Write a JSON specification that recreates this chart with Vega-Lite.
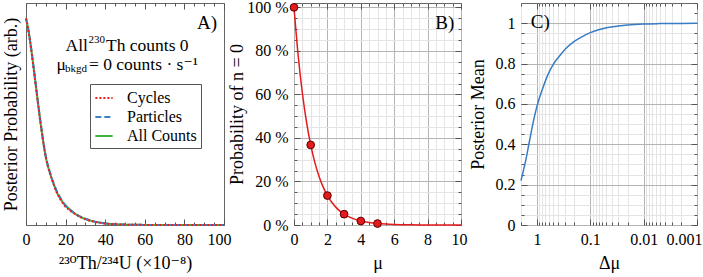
{
  "$schema": "https://vega.github.io/schema/vega-lite/v6.json",
  "padding": {"left": 1, "top": -2, "right": 0, "bottom": 0},
  "background": "white",
  "config": {
    "font": "Liberation Serif, DejaVu Serif",
    "style": {
      "guide-label": {"font": "Liberation Serif, DejaVu Serif", "fill": "black"},
      "guide-title": {"font": "Liberation Serif, DejaVu Serif", "fill": "black", "fontWeight": "normal"}
    },
    "view": {"stroke": "#666", "strokeWidth": 1},
    "axis": {
      "labelFont": "Liberation Serif, DejaVu Serif", "titleFont": "Liberation Serif, DejaVu Serif",
      "labelFontSize": 16, "titleFontSize": 18, "titleFontWeight": "normal",
      "labelColor": "black", "titleColor": "black",
      "domain": false, "tickColor": "#555", "labelFlush": false, "labelOverlap": false
    },
    "legend": {"labelFont": "Liberation Serif, DejaVu Serif"},
    "text": {"font": "Liberation Serif, DejaVu Serif", "color": "black"}
  },
  "datasets": {
    "posterior": [
      {"series": "All Counts", "ratio": 0, "prob": 1.000}, {"series": "All Counts", "ratio": 1, "prob": 0.955}, {"series": "All Counts", "ratio": 2, "prob": 0.895}, {"series": "All Counts", "ratio": 3, "prob": 0.825}, {"series": "All Counts", "ratio": 4, "prob": 0.750}, {"series": "All Counts", "ratio": 5, "prob": 0.672}, {"series": "All Counts", "ratio": 6, "prob": 0.595}, {"series": "All Counts", "ratio": 7, "prob": 0.520}, {"series": "All Counts", "ratio": 8, "prob": 0.450}, {"series": "All Counts", "ratio": 9, "prob": 0.385}, {"series": "All Counts", "ratio": 10, "prob": 0.330}, {"series": "All Counts", "ratio": 11, "prob": 0.288}, {"series": "All Counts", "ratio": 12, "prob": 0.255}, {"series": "All Counts", "ratio": 13, "prob": 0.225}, {"series": "All Counts", "ratio": 14, "prob": 0.198}, {"series": "All Counts", "ratio": 15, "prob": 0.172}, {"series": "All Counts", "ratio": 16, "prob": 0.150}, {"series": "All Counts", "ratio": 17, "prob": 0.133}, {"series": "All Counts", "ratio": 18, "prob": 0.118}, {"series": "All Counts", "ratio": 19, "prob": 0.106}, {"series": "All Counts", "ratio": 20, "prob": 0.096}, {"series": "All Counts", "ratio": 22, "prob": 0.077}, {"series": "All Counts", "ratio": 24, "prob": 0.060}, {"series": "All Counts", "ratio": 26, "prob": 0.047}, {"series": "All Counts", "ratio": 28, "prob": 0.037}, {"series": "All Counts", "ratio": 30, "prob": 0.029}, {"series": "All Counts", "ratio": 32, "prob": 0.023}, {"series": "All Counts", "ratio": 34, "prob": 0.018}, {"series": "All Counts", "ratio": 36, "prob": 0.014}, {"series": "All Counts", "ratio": 38, "prob": 0.011}, {"series": "All Counts", "ratio": 40, "prob": 0.008}, {"series": "All Counts", "ratio": 45, "prob": 0.004}, {"series": "All Counts", "ratio": 50, "prob": 0.002}, {"series": "All Counts", "ratio": 60, "prob": 0.0005}, {"series": "All Counts", "ratio": 70, "prob": 0.0001}, {"series": "All Counts", "ratio": 80, "prob": 0}, {"series": "All Counts", "ratio": 90, "prob": 0}, {"series": "All Counts", "ratio": 100, "prob": 0},
      {"series": "Particles", "ratio": 0, "prob": 1.000}, {"series": "Particles", "ratio": 1, "prob": 0.957}, {"series": "Particles", "ratio": 2, "prob": 0.898}, {"series": "Particles", "ratio": 3, "prob": 0.828}, {"series": "Particles", "ratio": 4, "prob": 0.753}, {"series": "Particles", "ratio": 5, "prob": 0.675}, {"series": "Particles", "ratio": 6, "prob": 0.598}, {"series": "Particles", "ratio": 7, "prob": 0.523}, {"series": "Particles", "ratio": 8, "prob": 0.452}, {"series": "Particles", "ratio": 9, "prob": 0.387}, {"series": "Particles", "ratio": 10, "prob": 0.332}, {"series": "Particles", "ratio": 11, "prob": 0.291}, {"series": "Particles", "ratio": 12, "prob": 0.258}, {"series": "Particles", "ratio": 13, "prob": 0.228}, {"series": "Particles", "ratio": 14, "prob": 0.201}, {"series": "Particles", "ratio": 15, "prob": 0.176}, {"series": "Particles", "ratio": 16, "prob": 0.155}, {"series": "Particles", "ratio": 17, "prob": 0.138}, {"series": "Particles", "ratio": 18, "prob": 0.121}, {"series": "Particles", "ratio": 19, "prob": 0.105}, {"series": "Particles", "ratio": 20, "prob": 0.092}, {"series": "Particles", "ratio": 22, "prob": 0.075}, {"series": "Particles", "ratio": 24, "prob": 0.060}, {"series": "Particles", "ratio": 26, "prob": 0.048}, {"series": "Particles", "ratio": 28, "prob": 0.038}, {"series": "Particles", "ratio": 30, "prob": 0.030}, {"series": "Particles", "ratio": 32, "prob": 0.023}, {"series": "Particles", "ratio": 34, "prob": 0.018}, {"series": "Particles", "ratio": 36, "prob": 0.014}, {"series": "Particles", "ratio": 38, "prob": 0.011}, {"series": "Particles", "ratio": 40, "prob": 0.008}, {"series": "Particles", "ratio": 45, "prob": 0.004}, {"series": "Particles", "ratio": 50, "prob": 0.002}, {"series": "Particles", "ratio": 60, "prob": 0.0005}, {"series": "Particles", "ratio": 70, "prob": 0.0001}, {"series": "Particles", "ratio": 80, "prob": 0}, {"series": "Particles", "ratio": 90, "prob": 0}, {"series": "Particles", "ratio": 100, "prob": 0},
      {"series": "Cycles", "ratio": 0, "prob": 1.000}, {"series": "Cycles", "ratio": 1, "prob": 0.953}, {"series": "Cycles", "ratio": 2, "prob": 0.893}, {"series": "Cycles", "ratio": 3, "prob": 0.823}, {"series": "Cycles", "ratio": 4, "prob": 0.748}, {"series": "Cycles", "ratio": 5, "prob": 0.670}, {"series": "Cycles", "ratio": 6, "prob": 0.593}, {"series": "Cycles", "ratio": 7, "prob": 0.518}, {"series": "Cycles", "ratio": 8, "prob": 0.448}, {"series": "Cycles", "ratio": 9, "prob": 0.383}, {"series": "Cycles", "ratio": 10, "prob": 0.328}, {"series": "Cycles", "ratio": 11, "prob": 0.286}, {"series": "Cycles", "ratio": 12, "prob": 0.253}, {"series": "Cycles", "ratio": 13, "prob": 0.223}, {"series": "Cycles", "ratio": 14, "prob": 0.196}, {"series": "Cycles", "ratio": 15, "prob": 0.170}, {"series": "Cycles", "ratio": 16, "prob": 0.148}, {"series": "Cycles", "ratio": 17, "prob": 0.130}, {"series": "Cycles", "ratio": 18, "prob": 0.114}, {"series": "Cycles", "ratio": 19, "prob": 0.100}, {"series": "Cycles", "ratio": 20, "prob": 0.088}, {"series": "Cycles", "ratio": 22, "prob": 0.072}, {"series": "Cycles", "ratio": 24, "prob": 0.058}, {"series": "Cycles", "ratio": 26, "prob": 0.046}, {"series": "Cycles", "ratio": 28, "prob": 0.036}, {"series": "Cycles", "ratio": 30, "prob": 0.028}, {"series": "Cycles", "ratio": 32, "prob": 0.022}, {"series": "Cycles", "ratio": 34, "prob": 0.017}, {"series": "Cycles", "ratio": 36, "prob": 0.013}, {"series": "Cycles", "ratio": 38, "prob": 0.010}, {"series": "Cycles", "ratio": 40, "prob": 0.007}, {"series": "Cycles", "ratio": 45, "prob": 0.004}, {"series": "Cycles", "ratio": 50, "prob": 0.002}, {"series": "Cycles", "ratio": 60, "prob": 0.0005}, {"series": "Cycles", "ratio": 70, "prob": 0.0001}, {"series": "Cycles", "ratio": 80, "prob": 0}, {"series": "Cycles", "ratio": 90, "prob": 0}, {"series": "Cycles", "ratio": 100, "prob": 0}
    ],
    "poisson": [
      {"mu": 0, "p": 100}, {"mu": 0.25, "p": 77.88}, {"mu": 0.5, "p": 60.65}, {"mu": 0.75, "p": 47.24}, {"mu": 1, "p": 36.79}, {"mu": 1.25, "p": 28.65}, {"mu": 1.5, "p": 22.31}, {"mu": 1.75, "p": 17.38}, {"mu": 2, "p": 13.53}, {"mu": 2.25, "p": 10.54}, {"mu": 2.5, "p": 8.21}, {"mu": 2.75, "p": 6.39}, {"mu": 3, "p": 4.98}, {"mu": 3.5, "p": 3.02}, {"mu": 4, "p": 1.83}, {"mu": 4.5, "p": 1.11}, {"mu": 5, "p": 0.67}, {"mu": 5.5, "p": 0.41}, {"mu": 6, "p": 0.25}, {"mu": 7, "p": 0.09}, {"mu": 8, "p": 0.03}, {"mu": 9, "p": 0.01}, {"mu": 10, "p": 0.005}
    ],
    "poissonPoints": [
      {"mu": 0, "p": 100}, {"mu": 1, "p": 36.79}, {"mu": 2, "p": 13.53}, {"mu": 3, "p": 4.98}, {"mu": 4, "p": 1.83}, {"mu": 5, "p": 0.67}
    ],
    "mean": [
      {"dmu": 2, "mean": 0.22}, {"dmu": 1.8, "mean": 0.27}, {"dmu": 1.6, "mean": 0.33}, {"dmu": 1.4, "mean": 0.41}, {"dmu": 1.2, "mean": 0.50}, {"dmu": 1.0, "mean": 0.59}, {"dmu": 0.8, "mean": 0.67}, {"dmu": 0.6, "mean": 0.755}, {"dmu": 0.5, "mean": 0.795}, {"dmu": 0.4, "mean": 0.83}, {"dmu": 0.3, "mean": 0.87}, {"dmu": 0.2, "mean": 0.91}, {"dmu": 0.15, "mean": 0.93}, {"dmu": 0.1, "mean": 0.953}, {"dmu": 0.07, "mean": 0.967}, {"dmu": 0.05, "mean": 0.977}, {"dmu": 0.03, "mean": 0.986}, {"dmu": 0.02, "mean": 0.991}, {"dmu": 0.01, "mean": 0.996}, {"dmu": 0.005, "mean": 0.998}, {"dmu": 0.002, "mean": 0.999}, {"dmu": 0.001, "mean": 1.0}
    ]
  },
  "hconcat": [
    {
      "width": 198, "height": 222,
      "resolve": {"axis": {"x": "independent", "y": "independent"}},
      "layer": [
        {
          "data": {"name": "posterior"},
          "transform": [{"filter": "datum.series === 'All Counts'"}],
          "mark": {"type": "line", "strokeWidth": 2, "interpolate": "monotone"},
          "encoding": {
            "x": {"field": "ratio", "type": "quantitative", "scale": {"domain": [0, 100], "nice": false},
              "axis": {"orient": "bottom", "values": [0,5,10,15,20,25,30,35,40,45,50,55,60,65,70,75,80,85,90,95,100],
                "labelExpr": "datum.value % 20 === 0 ? datum.label : ''",
                "tickSize": {"condition": {"test": "datum.value % 20 === 0", "value": -6}, "value": -3},
                "labelOffset": {"condition": {"test": "datum.value === 100", "value": -5}, "value": 0},
                "labelPadding": 12, "grid": false, "title": "²³⁰Th/²³⁴U (×10⁻⁸)", "titlePadding": 4}},
            "y": {"field": "prob", "type": "quantitative", "scale": {"domain": [0, 1.075], "nice": false},
              "axis": {"orient": "left", "labels": false, "ticks": false, "grid": false, "title": "Posterior Probability (arb.)", "titlePadding": 6}},
            "color": {"field": "series", "type": "nominal",
              "scale": {"domain": ["Cycles", "Particles", "All Counts"], "range": ["#ee1c1c", "#3d7fc6", "#3fb43f"]},
              "legend": {"title": null, "orient": "none", "legendX": 64, "legendY": 81, "strokeColor": "#555", "fillColor": "white",
                "padding": 4, "symbolType": "stroke", "symbolSize": 300, "symbolStrokeWidth": 2, "labelFontSize": 16,
                "labelFont": "Liberation Serif, DejaVu Serif", "labelOffset": 13, "rowPadding": 1, "labelColor": "black", "cornerRadius": 0}},
            "strokeDash": {"field": "series", "type": "nominal",
              "scale": {"domain": ["Cycles", "Particles", "All Counts"], "range": [[2, 2], [6, 3], [1, 0]]}}
          }
        },
        {
          "data": {"name": "posterior"},
          "transform": [{"filter": "datum.series === 'Particles'"}],
          "mark": {"type": "line", "strokeWidth": 2, "interpolate": "monotone"},
          "encoding": {
            "x": {"field": "ratio", "type": "quantitative",
              "axis": {"orient": "top", "values": [0,5,10,15,20,25,30,35,40,45,50,55,60,65,70,75,80,85,90,95,100], "labels": false,
                "tickSize": {"condition": {"test": "datum.value % 20 === 0", "value": -6}, "value": -3}, "grid": false, "title": null}},
            "y": {"field": "prob", "type": "quantitative", "axis": null},
            "color": {"field": "series", "type": "nominal"},
            "strokeDash": {"field": "series", "type": "nominal"}
          }
        },
        {
          "data": {"name": "posterior"},
          "transform": [{"filter": "datum.series === 'Cycles'"}],
          "mark": {"type": "line", "strokeWidth": 2, "interpolate": "monotone"},
          "encoding": {
            "x": {"field": "ratio", "type": "quantitative", "axis": null},
            "y": {"field": "prob", "type": "quantitative", "axis": null},
            "color": {"field": "series", "type": "nominal"},
            "strokeDash": {"field": "series", "type": "nominal"}
          }
        },
        {
          "data": {"values": [{}]},
          "mark": {"type": "text", "text": "A)", "fontSize": 19, "align": "right", "baseline": "middle"},
          "encoding": {"x": {"datum": 96.5, "type": "quantitative", "axis": null}, "y": {"datum": 0.98, "type": "quantitative", "axis": null}}
        },
        {
          "data": {"values": [{}]},
          "mark": {"type": "text", "text": "All", "fontSize": 17.5, "align": "right", "baseline": "middle", "dx": -18},
          "encoding": {"x": {"datum": 40.4, "type": "quantitative", "axis": null}, "y": {"datum": 0.866, "type": "quantitative", "axis": null}}
        },
        {
          "data": {"values": [{}]},
          "mark": {"type": "text", "text": "230", "fontSize": 11, "align": "right", "baseline": "middle", "dx": -1, "dy": -6},
          "encoding": {"x": {"datum": 40.4, "type": "quantitative", "axis": null}, "y": {"datum": 0.866, "type": "quantitative", "axis": null}}
        },
        {
          "data": {"values": [{}]},
          "mark": {"type": "text", "text": "Th counts 0", "fontSize": 17.5, "align": "left", "baseline": "middle"},
          "encoding": {"x": {"datum": 40.4, "type": "quantitative", "axis": null}, "y": {"datum": 0.866, "type": "quantitative", "axis": null}}
        },
        {
          "data": {"values": [{}]},
          "mark": {"type": "text", "text": "μ", "fontSize": 17.5, "align": "right", "baseline": "middle", "dx": -23},
          "encoding": {"x": {"datum": 31.8, "type": "quantitative", "axis": null}, "y": {"datum": 0.776, "type": "quantitative", "axis": null}}
        },
        {
          "data": {"values": [{}]},
          "mark": {"type": "text", "text": "bkgd", "fontSize": 11, "align": "right", "baseline": "middle", "dx": -2, "dy": 4},
          "encoding": {"x": {"datum": 31.8, "type": "quantitative", "axis": null}, "y": {"datum": 0.776, "type": "quantitative", "axis": null}}
        },
        {
          "data": {"values": [{}]},
          "mark": {"type": "text", "text": "= 0  counts · s⁻¹", "fontSize": 17.5, "align": "left", "baseline": "middle"},
          "encoding": {"x": {"datum": 31.8, "type": "quantitative", "axis": null}, "y": {"datum": 0.776, "type": "quantitative", "axis": null}}
        }
      ]
    },
    {
      "spacing": 60,
      "bounds": "flush",
      "hconcat": [
        {
          "width": 167, "height": 222,
          "resolve": {"axis": {"x": "independent", "y": "independent"}},
          "layer": [
            {
              "data": {"name": "poisson"},
              "mark": {"type": "line", "color": "#e41a1c", "strokeWidth": 1.5, "interpolate": "monotone"},
              "encoding": {
                "x": {"field": "mu", "type": "quantitative", "scale": {"domain": [0, 10], "nice": false},
                  "axis": {"orient": "bottom", "values": [0,0.5,1,1.5,2,2.5,3,3.5,4,4.5,5,5.5,6,6.5,7,7.5,8,8.5,9,9.5,10],
                    "format": "~g",
                    "labelExpr": "datum.value % 2 === 0 ? datum.label : ''",
                    "tickSize": {"condition": {"test": "datum.value % 2 === 0", "value": -6}, "value": -3},
                    "labelOffset": {"condition": {"test": "datum.value === 10", "value": -2}, "value": 0},
                    "labelPadding": 12, "grid": true,
                    "gridColor": {"condition": {"test": "datum.value % 2 === 0", "value": "#b4b4b4"}, "value": "#e4e4e4"},
                    "title": "μ", "titlePadding": 4}},
                "y": {"field": "p", "type": "quantitative", "scale": {"domain": [0, 102], "nice": false},
                  "axis": {"orient": "left", "values": [0,5,10,15,20,25,30,35,40,45,50,55,60,65,70,75,80,85,90,95,100],
                    "labelExpr": "datum.value % 20 === 0 ? datum.value + ' %' : ''",
                    "tickSize": {"condition": {"test": "datum.value % 20 === 0", "value": -6}, "value": -3},
                    "labelPadding": 12, "grid": true,
                    "gridColor": {"condition": {"test": "datum.value % 20 === 0", "value": "#b4b4b4"}, "value": "#e4e4e4"},
                    "title": "Probability of n = 0", "titlePadding": 0}}
              }
            },
            {
              "data": {"name": "poissonPoints"},
              "mark": {"type": "point", "shape": "circle", "filled": true, "size": 60, "fill": "#e41a1c", "stroke": "#5a0000", "strokeWidth": 1, "opacity": 1},
              "encoding": {
                "x": {"field": "mu", "type": "quantitative",
                  "axis": {"orient": "top", "values": [0,0.5,1,1.5,2,2.5,3,3.5,4,4.5,5,5.5,6,6.5,7,7.5,8,8.5,9,9.5,10], "labels": false,
                    "tickSize": {"condition": {"test": "datum.value % 2 === 0", "value": -6}, "value": -3}, "grid": false, "title": null}},
                "y": {"field": "p", "type": "quantitative",
                  "axis": {"orient": "right", "values": [0,5,10,15,20,25,30,35,40,45,50,55,60,65,70,75,80,85,90,95,100], "labels": false,
                    "tickSize": {"condition": {"test": "datum.value % 20 === 0", "value": -6}, "value": -3}, "grid": false, "title": null}}
              }
            },
            {
              "data": {"values": [{}]},
              "mark": {"type": "text", "text": "B)", "fontSize": 19, "align": "right", "baseline": "middle"},
              "encoding": {"x": {"datum": 9.6, "type": "quantitative", "axis": null}, "y": {"datum": 93, "type": "quantitative", "axis": null}}
            }
          ]
        },
        {
          "width": 176, "height": 222,
          "resolve": {"axis": {"x": "independent", "y": "independent"}},
          "layer": [
            {
              "data": {"name": "mean"},
              "mark": {"type": "line", "color": "#3a7cc4", "strokeWidth": 1.5, "interpolate": "monotone"},
              "encoding": {
                "x": {"field": "dmu", "type": "quantitative", "scale": {"type": "log", "domain": [0.001, 2], "reverse": true, "nice": false},
                  "axis": {"orient": "bottom", "values": [2,1,0.9,0.8,0.7,0.6,0.5,0.4,0.3,0.2,0.1,0.09,0.08,0.07,0.06,0.05,0.04,0.03,0.02,0.01,0.009,0.008,0.007,0.006,0.005,0.004,0.003,0.002,0.001],
                    "format": "~g",
                    "labelExpr": "abs(log(datum.value)/LN10 - round(log(datum.value)/LN10)) < 1e-6 ? datum.label : ''",
                    "tickSize": {"condition": {"test": "abs(log(datum.value)/LN10 - round(log(datum.value)/LN10)) < 1e-6", "value": -6}, "value": -3},
                    "labelOffset": {"condition": {"test": "datum.value < 0.0015", "value": -13}, "value": 0},
                    "labelPadding": 12, "grid": true,
                    "gridColor": {"condition": {"test": "abs(log(datum.value)/LN10 - round(log(datum.value)/LN10)) < 1e-6", "value": "#b4b4b4"}, "value": "#e4e4e4"},
                    "title": "Δμ", "titlePadding": 4}},
                "y": {"field": "mean", "type": "quantitative", "scale": {"domain": [0, 1.1], "nice": false},
                  "axis": {"orient": "left", "values": [0,0.05,0.1,0.15,0.2,0.25,0.3,0.35,0.4,0.45,0.5,0.55,0.6,0.65,0.7,0.75,0.8,0.85,0.9,0.95,1],
                    "format": "~g",
                    "labelExpr": "abs(datum.value*5 - round(datum.value*5)) < 1e-6 ? datum.label : ''",
                    "tickSize": {"condition": {"test": "abs(datum.value*5 - round(datum.value*5)) < 1e-6", "value": -6}, "value": -3},
                    "labelPadding": 12, "grid": true,
                    "gridColor": {"condition": {"test": "abs(datum.value*5 - round(datum.value*5)) < 1e-6", "value": "#b4b4b4"}, "value": "#e4e4e4"},
                    "title": "Posterior Mean", "titlePadding": 8}}
              }
            },
            {
              "data": {"values": [{}]},
              "mark": {"type": "text", "text": "C)", "fontSize": 19, "align": "left", "baseline": "middle"},
              "encoding": {
                "x": {"datum": 1.31, "type": "quantitative",
                  "axis": {"orient": "top", "values": [2,1,0.9,0.8,0.7,0.6,0.5,0.4,0.3,0.2,0.1,0.09,0.08,0.07,0.06,0.05,0.04,0.03,0.02,0.01,0.009,0.008,0.007,0.006,0.005,0.004,0.003,0.002,0.001], "labels": false,
                    "tickSize": {"condition": {"test": "abs(log(datum.value)/LN10 - round(log(datum.value)/LN10)) < 1e-6", "value": -6}, "value": -3}, "grid": false, "title": null}},
                "y": {"datum": 1.005, "type": "quantitative",
                  "axis": {"orient": "right", "values": [0,0.05,0.1,0.15,0.2,0.25,0.3,0.35,0.4,0.45,0.5,0.55,0.6,0.65,0.7,0.75,0.8,0.85,0.9,0.95,1,1.05,1.1], "labels": false,
                    "tickSize": {"condition": {"test": "abs(datum.value*5 - round(datum.value*5)) < 1e-6", "value": -6}, "value": -3}, "grid": false, "title": null}}
              }
            }
          ]
        }
      ]
    }
  ],
  "spacing": 70,
  "bounds": "flush"
}
